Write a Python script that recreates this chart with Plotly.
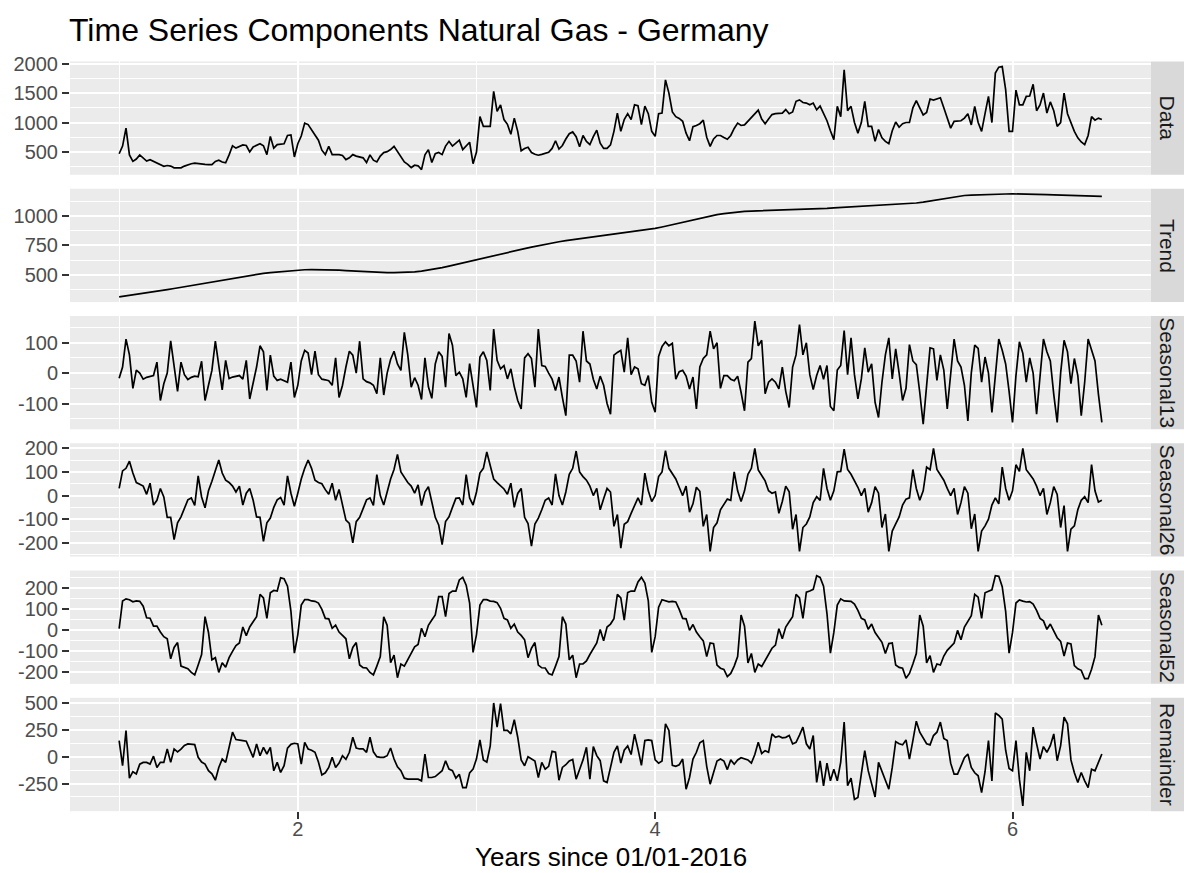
import plotly.graph_objects as go

W, H = 1184, 873

# ---- time axes (years since 01/01-2016) ----
n_weeks = 287
years = [1 + k / 52 for k in range(n_weeks)]          # weekly observations
years_trend = [1 + k / 26 for k in range(144)]         # trend read every 2 weeks

# ---- series values ----
data_vals = [470, 600, 905, 450, 340, 380, 450, 400, 345, 370,
             340, 315, 285, 255, 270, 260, 230, 225, 230, 260,
             285, 300, 310, 300, 300, 290, 285, 285, 340, 360,
             330, 315, 450, 605, 565, 590, 620, 610, 500, 585,
             610, 640, 605, 455, 765, 565, 625, 630, 640, 780,
             790, 415, 640, 770, 990, 965, 870, 790, 700, 530,
             455, 595, 455, 455, 455, 440, 370, 400, 455, 430,
             415, 400, 320, 450, 360, 330, 430, 490, 505, 540,
             595, 500, 410, 330, 290, 235, 275, 265, 200, 450,
             540, 320, 470, 490, 455, 600, 680, 600, 650, 700,
             540, 600, 665, 300, 500, 1100, 935, 935, 935, 1530,
             1190, 1300, 1050, 970, 800, 1075, 850, 520, 560, 580,
             490, 460, 445, 460, 480, 495, 560, 690, 550, 610,
             720, 810, 840, 760, 590, 780, 680, 625, 760, 870,
             650, 560, 560, 620, 850, 1160, 850, 1050, 1150, 1050,
             1300, 1285, 965, 1280, 1150, 850, 765, 1150, 1160, 1725,
             1500, 1180, 1100, 1070, 1020, 820, 690, 930, 950, 980,
             1040, 750, 595, 720, 780, 780, 745, 715, 780, 900,
             990, 950, 960, 1020, 1080, 1150, 1210, 1060, 980, 1060,
             1135, 1150, 1160, 1160, 1220, 1150, 1180, 1360, 1385, 1340,
             1330, 1300, 1330, 1215, 1280, 1160, 1030, 860, 710, 1275,
             1100, 1895, 1200, 1275, 1000, 820, 1000, 1360, 935, 935,
             680, 880, 740, 680, 640, 860, 1010, 920, 980, 1000,
             1000, 1250, 1370, 1250, 1130, 1170, 1400, 1380, 1400, 1420,
             1250, 1080, 905, 1020, 1030, 1030, 1075, 1150, 960, 1275,
             1000, 850, 1150, 1445, 1000, 1840, 1940, 1950, 1560, 850,
             850, 1550, 1300, 1300, 1445, 1450, 1650, 1200, 1300, 1500,
             1160, 1350, 1200, 935, 1000, 1500, 1150, 1000, 850, 740,
             670, 625, 780, 1100, 1040, 1075, 1050]

trend_vals = [310, 318, 327, 335, 343, 352, 362,
              372, 382, 392, 402, 412, 422, 432,
              442, 452, 463, 474, 485, 495,
              503, 511, 518, 524, 530, 535, 540,
              542, 543, 543, 542, 540, 538,
              535, 531, 527, 523, 520, 518, 517,
              517, 518, 520, 524, 530, 538,
              548, 560, 573, 587, 601, 615, 630,
              643, 656, 669, 682, 695, 708,
              722, 735, 748, 760, 771, 781, 790,
              798, 806, 814, 821, 828, 836,
              844, 852, 860, 868, 877, 886, 895,
              907, 920, 934, 948, 962, 976,
              990, 1002, 1013, 1022, 1030, 1036, 1040,
              1043, 1045, 1046, 1047, 1048, 1049,
              1051, 1053, 1056, 1059, 1062, 1066, 1070,
              1073, 1076, 1079, 1082, 1085, 1088,
              1091, 1094, 1097, 1101, 1106, 1112, 1120,
              1130, 1141, 1152, 1162, 1170, 1176,
              1180, 1183, 1185, 1187, 1188, 1189, 1190,
              1190, 1189, 1188, 1186, 1184, 1182,
              1180, 1178, 1176, 1174, 1172, 1170, 1168]

seasonal13_vals = [-17, 20, 112, 60, -50, 10, 0, -20, -14, -10,
                   -8, 36, -90, -35, 0, 106, 25, -60, 36, -5,
                   -21, -14, -10, -12, 39, -90, -40, 9, 105, 25,
                   -55, 42, -18, -13, -10, -8, -20, 42, -85, -30,
                   20, 90, 70, -57, 59, -10, -24, -20, -25, -30,
                   36, -80, -40, 40, 75, 66, -5, 72, -5, -20,
                   -22, -25, -40, 50, -80, -40, 20, 72, 59, 0,
                   105, -19, -28, -32, -40, -68, 50, -72, 0, 45,
                   72, 30, 9, 134, 60, -46, -15, -40, -87, 50,
                   -45, -83, 30, 70, 55, -46, 130, 92, -8, 3,
                   -19, -80, 31, -40, -113, 53, 70, 42, -57, 145,
                   42, 14, 25, -19, 14, -45, -90, -118, 50, 64,
                   48, -46, 145, 25, 22, 0, -20, -57, -13, -80,
                   -140, 59, 59, 40, -30, 138, 40, 30, -20, -52,
                   -10, -40, -100, -135, 59, 68, 75, 3, 116, -5,
                   20, 14, -35, -40, -8, -96, -129, 55, 88, 103,
                   90, 98, -20, 5, 9, -10, -52, -13, -118, 20,
                   48, 60, 138, 80, 100, -50, -8, -8, -20, -25,
                   -10, -63, -124, 36, 48, 171, 90, 108, -68, -30,
                   -19, -30, -52, 20, -60, -113, 20, 60, 160, 60,
                   100, -5, -54, -8, 25, -20, 25, -110, -124, 10,
                   25, 140, -5, 116, -5, -85, -19, 83, 3, 31,
                   -96, -146, -30, 60, 116, -19, 80, 0, -90, -50,
                   94, 40, 28, -63, -168, -41, 83, 80, -24, 60,
                   10, -118, 0, 112, 40, 20, -40, -157, 0, 92,
                   81, -30, 53, 0, -129, 0, 112, 75, 30, -60,
                   -162, -8, 103, 65, -30, 50, 0, -135, 0, 112,
                   70, 40, -70, -162, 0, 108, 70, -35, 48, -8,
                   -140, -30, 112, 72, 40, -70, -162]

seasonal26_vals = [30, 104, 115, 145, 95, 55, 48, 40, 5, 52,
                   -40, -20, 30, -6, -92, -92, -186, -115, -90, -50,
                   -18, -10, -42, 83, -6, -52, 20, 60, 105, 150,
                   95, 65, 55, 40, 15, 40, -40, 10, 30, -20,
                   -90, -92, -193, -115, -95, -50, -18, -8, -40, 83,
                   10, -45, 10, 70, 115, 150, 115, 65, 55, 50,
                   25, 5, 52, -20, 26, -35, -104, -118, -200, -110,
                   -92, -55, -18, -10, -42, 88, 0, -40, 15, 70,
                   110, 174, 100, 75, 55, 40, 10, 45, -42, 15,
                   37, -27, -92, -124, -207, -110, -90, -50, -12, -10,
                   -40, 88, -10, -40, 15, 95, 115, 184, 120, 70,
                   55, 42, 28, 5, 52, -50, 9, 30, -92, -118,
                   -214, -120, -95, -60, -20, -10, -40, 92, 0, -40,
                   15, 90, 115, 188, 100, 80, 65, 40, 0, 30,
                   -60, -13, 30, 15, -130, -80, -222, -121, -110, -75,
                   -40, -10, -40, 95, 20, -25, 0, 80, 100, 190,
                   115, 95, 70, 35, 0, 40, -70, -35, 35, 18,
                   -130, -80, -236, -135, -115, -60, -40, -15, -20, 100,
                   20, -25, 20, 90, 115, 199, 108, 85, 62, 20,
                   10, 15, -75, -25, 40, 16, -142, -80, -236, -135,
                   -120, -90, -30, -5, -20, 115, 30, -20, 20, 100,
                   102, 196, 110, 90, 65, 35, 0, 30, -70, -30,
                   38, 10, -135, -78, -236, -150, -120, -90, -40, -15,
                   -10, 110, 30, -20, 20, 120, 109, 199, 110, 90,
                   65, 30, 0, 30, -80, -30, 38, 10, -140, -78,
                   -236, -150, -128, -100, -40, -10, -35, 120, 30, -20,
                   20, 130, 102, 199, 109, 90, 70, 40, 0, 30,
                   -80, -30, 38, 5, -135, -42, -236, -142, -128, -60,
                   -20, -5, -30, 131, 20, -27, -20]

seasonal52_vals = [8, 140, 150, 146, 136, 140, 138, 115, 60, 58,
                   20, 20, -8, -30, -40, -135, -81, -58, -170, -177,
                   -182, -200, -212, -165, -115, 65, -10, -140, -130, -200,
                   -154, -175, -130, -100, -72, -60, 16, -25, 16, 41,
                   65, 171, 154, 57, 179, 190, 187, 250, 246, 210,
                   90, -108, -20, 120, 146, 146, 140, 138, 130, 100,
                   57, 55, 10, 25, -8, -24, -40, -135, -81, -58,
                   -165, -177, -179, -200, -212, -170, -125, 65, 24, -154,
                   -118, -225, -160, -170, -140, -105, -78, -67, 10, -30,
                   24, 49, 73, 160, 160, 65, 175, 187, 187, 240,
                   252, 215, 130, -105, -20, 120, 146, 146, 139, 138,
                   132, 105, 57, 50, 10, 30, -8, -24, -45, -130,
                   -85, -58, -165, -178, -179, -205, -212, -170, -125, 65,
                   30, -140, -118, -225, -160, -160, -145, -115, -85, -60,
                   4, -49, 16, 30, 55, 171, 154, 49, 180, 187,
                   187, 230, 252, 225, 140, -105, -30, 110, 146, 141,
                   136, 138, 135, 100, 57, 55, 0, 28, -8, -30,
                   -50, -125, -60, -63, -165, -180, -186, -220, -205, -170,
                   -125, 73, 20, -155, -110, -200, -160, -172, -145, -115,
                   -85, -70, 8, -40, 16, 41, 65, 171, 154, 57,
                   182, 187, 195, 260, 252, 210, 80, -108, -10, 120,
                   150, 140, 138, 138, 125, 95, 57, 50, 5, 30,
                   -10, -35, -57, -110, -63, -60, -165, -176, -180, -228,
                   -205, -160, -110, 73, 20, -155, -120, -200, -160, -165,
                   -122, -95, -78, -60, 0, -45, 16, 42, 70, 171,
                   158, 57, 179, 186, 193, 260, 257, 208, 90, -108,
                   -10, 130, 145, 139, 135, 137, 125, 95, 57, 45,
                   5, 30, -5, -35, -52, -122, -60, -65, -168, -183,
                   -190, -230, -230, -185, -125, 73, 24]

remainder_vals = [150, -84, 244, -200, -140, -160, -70, -53, -53, -69,
                  5, -100, -53, -53, 72, -53, 72, 45, 70, 105,
                  119, 119, 112, -6, -50, -69, -130, -160, -219, -100,
                  -22, -53, 90, 228, 160, 152, 150, 144, 60, -6,
                  119, 9, 87, 25, 87, -131, -53, -147, -84, 80,
                  115, 125, 119, -69, 134, 72, 60, 41, -50, -170,
                  -150, -100, -6, -100, -60, 9, -25, 41, 181, 80,
                  72, 72, 41, 181, 45, 0, -6, -6, 9, 81,
                  -22, -95, -131, -200, -209, -209, -209, -209, -225, 25,
                  -194, -194, -185, -160, -131, -38, -116, -131, -200, -163,
                  -288, -288, -150, -116, -20, 156, -31, -50, 100, 500,
                  275, 494, 244, 244, 212, 344, 181, -30, -84, 0,
                  -20, -40, -194, -53, -116, -90, 50, 41, -219, -100,
                  -75, -40, -25, -209, -120, -30, 87, -209, 94, 10,
                  -37, -225, -240, -110, 40, 100, -60, 60, 100, 20,
                  210, 70, -80, 150, 156, 150, -30, -60, -40, 306,
                  244, -80, -90, -75, -22, -303, -194, -22, 41, 130,
                  150, -90, -256, -147, -40, -22, -40, -120, -30, -70,
                  -30, -10, -20, -30, -60, 20, 134, 30, 56, 41,
                  212, 181, 190, 175, 180, 197, 119, 134, 200, 275,
                  120, 72, 197, -240, -40, -272, -60, -225, -116, -225,
                  -50, 322, -270, -200, -397, -380, -160, 56, -130, -250,
                  -375, -53, -131, -209, -303, -100, 140, 120, 110, 156,
                  -22, 150, 331, 228, 170, 120, 110, 197, 228, 322,
                  170, 150, -60, -163, -163, -84, -10, 25, -100, -150,
                  -178, -334, -140, 150, -225, 406, 384, 350, 60, -110,
                  -131, 150, -209, -459, 41, -131, 275, 120, -22, 94,
                  41, 103, 212, -38, 103, 369, 306, -30, -150, -240,
                  -147, -225, -288, -116, -131, -53, 25]

panel_names = ["Data", "Trend", "Seasonal13", "Seasonal26", "Seasonal52", "Remainder"]
panel_values = [data_vals, trend_vals, seasonal13_vals, seasonal26_vals,
                seasonal52_vals, remainder_vals]
panel_x = [years, years_trend, years, years, years, years]
panel_ticks = [[500, 1000, 1500, 2000],
               [500, 750, 1000],
               [-100, 0, 100],
               [-200, -100, 0, 100, 200],
               [-200, -100, 0, 100, 200],
               [-250, 0, 250, 500]]
x_ticks = [2, 4, 6]
x_minor = [1, 3, 5]
title_text = "Time Series Components Natural Gas - Germany"
x_title = "Years since 01/01-2016"

# ---- layout geometry (pixels) ----
left, right = 70, 1151
strip_right = 1184
top0, step, ph = 53, 128.6, 114.5
xlo = min(years) - 0.05 * (max(years) - min(years))
xhi = max(years) + 0.05 * (max(years) - min(years))

FONT = "Liberation Sans, Arial, sans-serif"
TICK_FONT = dict(family=FONT, size=20, color="#4D4D4D")

fig = go.Figure()
shapes = []
annotations = []
layout_axes = {}

for k, (name, xs, vals, ticks) in enumerate(zip(panel_names, panel_x, panel_values, panel_ticks)):
    sfx = "" if k == 0 else str(k + 1)
    t = top0 + step * k
    b = t + ph
    vmin, vmax = min(vals), max(vals)
    pad = 0.05 * (vmax - vmin)
    lo, hi = vmin - pad, vmax + pad
    dt = ticks[1] - ticks[0]
    minor_y = [v + dt / 2 for v in [ticks[0] - dt] + ticks if lo <= v + dt / 2 <= hi]

    fig.add_trace(go.Scatter(
        x=xs, y=vals, mode="lines",
        line=dict(color="black", width=1.7),
        xaxis="x" + sfx, yaxis="y" + sfx,
        showlegend=False, hoverinfo="skip"))

    bottom = (k == len(panel_names) - 1)
    layout_axes["xaxis" + sfx] = dict(
        domain=[left / W, right / W], range=[xlo, xhi], anchor="y" + sfx,
        tickmode="array", tickvals=x_ticks, showticklabels=bottom,
        ticks="outside" if bottom else "", ticklen=7, tickwidth=2, tickcolor="#333333",
        ticklabelstandoff=-7,
        showgrid=True, gridcolor="white", gridwidth=2.2,
        minor=dict(tickmode="array", tickvals=x_minor, showgrid=True,
                   gridcolor="white", gridwidth=1.1, ticks=""),
        zeroline=False, showline=False, tickfont=TICK_FONT, fixedrange=True)
    layout_axes["yaxis" + sfx] = dict(
        domain=[1 - b / H, 1 - t / H], range=[lo, hi], anchor="x" + sfx,
        tickmode="array", tickvals=ticks, ticktext=[str(v) for v in ticks],
        ticks="outside", ticklen=7, tickwidth=2, tickcolor="#333333",
        showgrid=True, gridcolor="white", gridwidth=2.2,
        minor=dict(tickmode="array", tickvals=minor_y, showgrid=True,
                   gridcolor="white", gridwidth=1.1, ticks=""),
        zeroline=False, showline=False, tickfont=TICK_FONT, fixedrange=True)

    shapes.append(dict(type="rect", xref="paper", yref="paper",
                       x0=right / W, x1=strip_right / W, y0=1 - b / H, y1=1 - t / H,
                       fillcolor="#D9D9D9", line=dict(width=0), layer="below"))
    annotations.append(dict(text=name, xref="paper", yref="paper",
                            x=(right + strip_right) / 2 / W, y=1 - (t + b) / 2 / H,
                            xanchor="center", yanchor="middle", textangle=90, showarrow=False,
                            font=dict(family=FONT, size=21, color="#1A1A1A")))

annotations.append(dict(text=title_text, xref="paper", yref="paper",
                        x=67 / W, y=1 - 21 / H, xanchor="left", yanchor="middle",
                        showarrow=False,
                        font=dict(family=FONT, size=32, color="black")))
annotations.append(dict(text=x_title, xref="paper", yref="paper",
                        x=(left + right) / 2 / W, y=1 - 857 / H, xanchor="center", yanchor="middle",
                        showarrow=False,
                        font=dict(family=FONT, size=26, color="black")))

fig.update_layout(
    width=W, height=H, autosize=False,
    margin=dict(l=0, r=0, t=0, b=0),
    paper_bgcolor="white", plot_bgcolor="#EBEBEB",
    shapes=shapes, annotations=annotations,
    **layout_axes)

fig.write_html("out.html")
